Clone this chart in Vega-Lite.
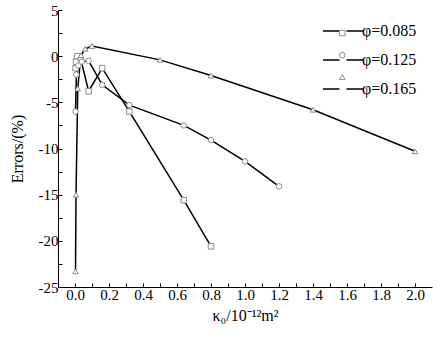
{
  "$schema": "https://vega.github.io/schema/vega-lite/v6.json",
  "width": 374,
  "height": 277,
  "autosize": {"type": "none"},
  "padding": {"left": 58, "top": 10, "right": 10, "bottom": 50},
  "background": "white",
  "config": {
    "view": {"stroke": null},
    "font": "Liberation Serif",
    "axis": {
      "grid": false,
      "domainColor": "black",
      "domainWidth": 1,
      "tickColor": "black",
      "tickWidth": 1,
      "tickSize": -4,
      "labelColor": "black",
      "labelFont": "Liberation Serif",
      "labelFontSize": 15,
      "titleFont": "Liberation Serif",
      "titleFontSize": 16,
      "titleFontWeight": "normal",
      "titleColor": "black"
    }
  },
  "data": {
    "values": [
      {"series": "φ=0.085", "k": 0.003, "err": -1.3},
      {"series": "φ=0.085", "k": 0.006, "err": -0.6},
      {"series": "φ=0.085", "k": 0.012, "err": 0.0},
      {"series": "φ=0.085", "k": 0.035, "err": -0.4},
      {"series": "φ=0.085", "k": 0.08, "err": -3.8},
      {"series": "φ=0.085", "k": 0.16, "err": -1.3},
      {"series": "φ=0.085", "k": 0.32, "err": -6.0},
      {"series": "φ=0.085", "k": 0.64, "err": -15.6},
      {"series": "φ=0.085", "k": 0.8, "err": -20.6},
      {"series": "φ=0.125", "k": 0.003, "err": -6.0},
      {"series": "φ=0.125", "k": 0.008, "err": -2.0},
      {"series": "φ=0.125", "k": 0.02, "err": -1.0},
      {"series": "φ=0.125", "k": 0.04, "err": -0.6},
      {"series": "φ=0.125", "k": 0.08, "err": -0.5},
      {"series": "φ=0.125", "k": 0.16, "err": -3.1},
      {"series": "φ=0.125", "k": 0.32, "err": -5.3},
      {"series": "φ=0.125", "k": 0.64, "err": -7.5},
      {"series": "φ=0.125", "k": 0.8, "err": -9.1},
      {"series": "φ=0.125", "k": 1.0, "err": -11.4},
      {"series": "φ=0.125", "k": 1.2, "err": -14.1},
      {"series": "φ=0.165", "k": 0.003, "err": -23.3},
      {"series": "φ=0.165", "k": 0.006, "err": -15.0},
      {"series": "φ=0.165", "k": 0.016, "err": -3.5},
      {"series": "φ=0.165", "k": 0.035, "err": 0.1},
      {"series": "φ=0.165", "k": 0.06, "err": 0.8},
      {"series": "φ=0.165", "k": 0.1, "err": 1.1},
      {"series": "φ=0.165", "k": 0.5, "err": -0.4},
      {"series": "φ=0.165", "k": 0.8, "err": -2.1},
      {"series": "φ=0.165", "k": 1.4, "err": -5.8},
      {"series": "φ=0.165", "k": 2.0, "err": -10.3}
    ]
  },
  "encoding": {
    "x": {
      "field": "k",
      "type": "quantitative",
      "scale": {"domain": [-0.1, 2.1], "nice": false, "zero": false},
      "axis": {
        "title": "κ₀/10⁻¹²m²",
        "values": [0, 0.1, 0.2, 0.3, 0.4, 0.5, 0.6, 0.7, 0.8, 0.9, 1.0, 1.1, 1.2, 1.3, 1.4, 1.5, 1.6, 1.7, 1.8, 1.9, 2.0],
        "labelExpr": "round(datum.value*10)%2==0 ? format(datum.value,'.1f') : ''",
        "labelPadding": 4,
        "titlePadding": 5
      }
    },
    "y": {
      "field": "err",
      "type": "quantitative",
      "scale": {"domain": [-25, 5], "nice": false, "zero": false},
      "axis": {
        "title": "Errors/(%)",
        "values": [-25, -22.5, -20, -17.5, -15, -12.5, -10, -7.5, -5, -2.5, 0, 2.5, 5],
        "labelExpr": "datum.value % 5 == 0 ? toString(datum.value) : ''",
        "labelPadding": 4,
        "titlePadding": 13
      }
    }
  },
  "layer": [
    {
      "mark": {"type": "line", "strokeWidth": 1.5, "opacity": 1},
      "encoding": {
        "order": {"field": "k"},
        "color": {
          "field": "series",
          "type": "nominal",
          "scale": {"domain": ["φ=0.085", "φ=0.125", "φ=0.165"], "range": ["black", "black", "black"]},
          "legend": {
            "title": null,
            "orient": "none",
            "legendX": 264,
            "legendY": 0,
            "padding": 0,
            "symbolType": "stroke",
            "symbolSize": 1600,
            "symbolStrokeWidth": 1.5,
            "symbolDash": [16.5, 7, 16.5],
            "labelFont": "Liberation Serif",
            "labelFontSize": 16,
            "labelColor": "black",
            "labelOffset": -2,
            "rowPadding": -15
          }
        }
      }
    },
    {
      "mark": {"type": "point", "fill": "white", "stroke": "#8c8c8c", "strokeWidth": 1, "size": 30, "opacity": 1},
      "encoding": {
        "shape": {
          "field": "series",
          "type": "nominal",
          "scale": {"range": ["square", "circle", "triangle-up"]},
          "legend": {
            "title": null,
            "orient": "none",
            "legendX": 276.3,
            "legendY": 15,
            "padding": 0,
            "symbolSize": 30,
            "symbolStrokeWidth": 1,
            "labelFont": "Liberation Serif",
            "labelFontSize": 16,
            "labelOpacity": 0,
            "rowPadding": 6
          }
        }
      }
    }
  ]
}
